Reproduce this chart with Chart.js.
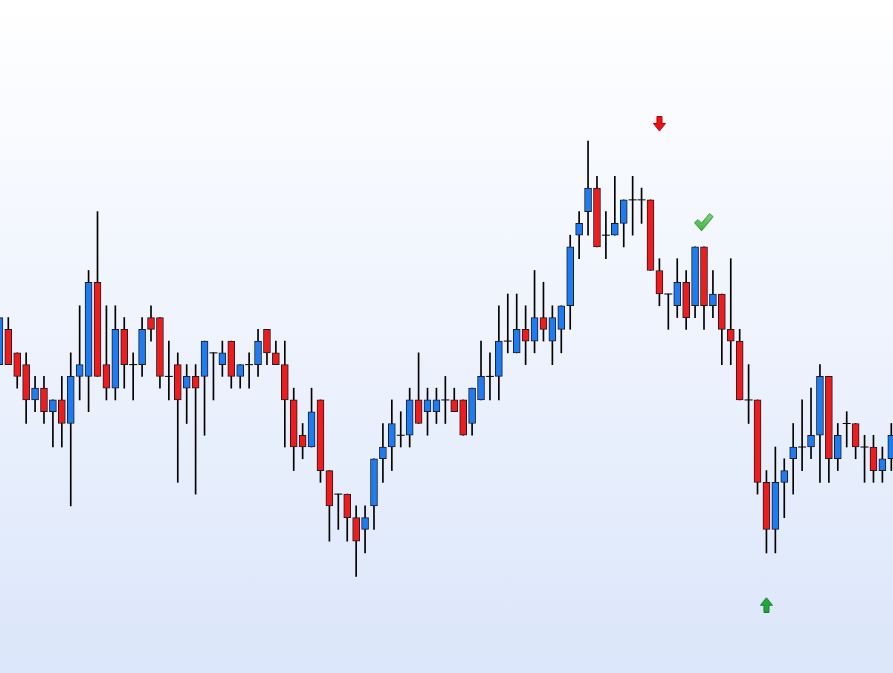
<!DOCTYPE html>
<html>
<head>
<meta charset="utf-8">
<script src="https://cdn.jsdelivr.net/npm/chart.js@4.4.1/dist/chart.umd.min.js"></script>
<style>
  html, body { margin: 0; padding: 0; overflow: hidden; }
  #wrap {
    width: 893px; height: 673px;
    background: linear-gradient(to bottom, #ffffff 0%, #eef3fd 50%, #dbe6fa 100%);
  }
</style>
</head>
<body>
<div id="wrap"><canvas id="chart" width="893" height="673"></canvas></div>
<script>
// candle numbers, first one is cut by the left edge
const FIRST = -1;
const opens  = [21,24,22,21,18,19,17,18,16,20,20,28,21,19,24,21,21,25,25,20,21,19,20,20,22,21,23,20,21,21,24,22,21,18,15,14,18,12,10,10,8,7,9,13,14,15,15,18,17,17,18,18,18,16,18,20,20,23,22,24,23,25,23,24,26,32,34,36,32,32,33,35,35,35,29,27,26,28,26,31,26,27,24,23,18,18,11,7,11,13,14,14,15,20,13,16,16,14,14,12,13];
const closes = [25,21,20,18,19,17,18,16,20,21,28,20,19,24,21,21,24,24,20,20,18,20,19,23,22,22,20,21,21,23,22,21,18,14,14,17,12,9,10,8,6,8,13,14,16,15,18,16,18,18,18,17,15,19,20,20,23,23,24,23,25,24,25,26,31,33,36,31,32,33,35,35,35,29,27,27,28,25,31,26,27,24,23,18,18,11,7,11,12,14,14,15,20,13,15,16,14,14,12,13,15];
const highs  = [25,25,22,22,20,20,18,20,22,26,29,34,26,26,25,22,25,26,25,23,22,21,21,23,22,23,23,21,22,24,24,23,23,19,16,19,18,12,10,10,9,9,13,16,18,17,19,22,19,19,20,19,18,19,23,22,26,27,27,26,29,28,26,26,32,34,40,37,34,37,35,37,36,35,30,27,30,29,31,31,29,27,30,24,21,18,12,14,13,16,18,19,21,20,16,17,16,15,15,14,16];
const lows   = [21,21,19,16,17,16,14,14,9,18,17,20,18,18,19,18,20,23,19,18,11,16,10,15,18,20,19,19,19,20,21,21,14,12,13,14,11,6,7,6,3,5,7,11,12,14,14,16,15,16,16,17,15,15,18,18,18,22,22,21,22,23,21,22,24,30,32,31,30,32,31,32,33,29,26,24,25,24,25,24,25,21,21,18,16,10,5,5,8,10,12,13,11,11,12,14,13,11,11,11,12];

// signal markers: candle number, price level, kind
const markerAt    = [73, 78, 85];
const markerPrice = [41.45, 33.1, 0.6];
const markerKind  = ['down', 'check', 'up'];

const BLUE = '#1f7bf0';
const RED = '#ee1c1c';
const EDGE = '#1c1c24';

const xs = opens.map((_, i) => FIRST + i);
const isDoji = i => opens[i] === closes[i];

function icon(kind) {
  const c = document.createElement('canvas');
  const g = c.getContext('2d');
  g.lineJoin = 'round';
  g.beginPath();
  if (kind === 'check') {
    c.width = 20; c.height = 20;
    g.moveTo(0.5, 10.5); g.lineTo(4, 7.5); g.lineTo(7.5, 11); g.lineTo(15.5, 1.5);
    g.lineTo(19, 4.5); g.lineTo(7.5, 18.5); g.closePath();
    const gr = g.createLinearGradient(0, 0, 0, 20);
    gr.addColorStop(0, '#86dc86'); gr.addColorStop(1, '#36b036');
    g.fillStyle = gr; g.strokeStyle = '#2c8a2c';
  } else {
    c.width = 13; c.height = 16;
    const pts = [[4, 0.5], [9, 0.5], [9, 7.5], [12.5, 7.5], [6.5, 15], [0.5, 7.5], [4, 7.5]];
    pts.forEach(([px, py], k) => {
      const yy = kind === 'up' ? 16 - py : py;
      k ? g.lineTo(px, yy) : g.moveTo(px, yy);
    });
    g.closePath();
    g.fillStyle = kind === 'up' ? '#25a83a' : '#ee1111';
    g.strokeStyle = kind === 'up' ? '#137a25' : '#b00000';
  }
  g.fill();
  g.lineWidth = 1;
  g.stroke();
  return c;
}

const bodyIdx = xs.map((_, i) => i).filter(i => !isDoji(i));
const dojiIdx = xs.map((_, i) => i).filter(i => isDoji(i));

new Chart(document.getElementById('chart'), {
  type: 'bar',
  data: {
    datasets: [
      {
        label: 'wick',
        data: xs.map((x, i) => ({ x, y: [lows[i], highs[i]] })),
        backgroundColor: '#000',
        barThickness: 1,
        grouped: false,
        order: 3,
      },
      {
        label: 'body',
        data: bodyIdx.map(i => ({ x: xs[i], y: [opens[i], closes[i]] })),
        backgroundColor: bodyIdx.map(i => closes[i] > opens[i] ? BLUE : RED),
        borderColor: EDGE,
        borderWidth: 1,
        borderSkipped: false,
        barThickness: 7,
        grouped: false,
        order: 2,
      },
      {
        type: 'scatter',
        label: 'doji',
        data: dojiIdx.map(i => ({ x: xs[i], y: opens[i] })),
        pointStyle: 'line',
        pointRadius: 4,
        borderColor: '#000',
        borderWidth: 1,
        order: 1,
      },
      {
        type: 'scatter',
        label: 'signals',
        data: markerAt.map((x, i) => ({ x, y: markerPrice[i] })),
        pointStyle: markerKind.map(icon),
        order: 0,
      },
    ],
  },
  options: {
    responsive: false,
    animation: false,
    events: [],
    layout: { padding: 0, autoPadding: false },
    plugins: { legend: { display: false }, tooltip: { enabled: false } },
    scales: {
      x: { type: 'linear', min: -0.931, max: 99.19, offset: false, display: false },
      y: { type: 'linear', min: -5.2, max: 51.98, display: false },
    },
  },
});
</script>
</body>
</html>
